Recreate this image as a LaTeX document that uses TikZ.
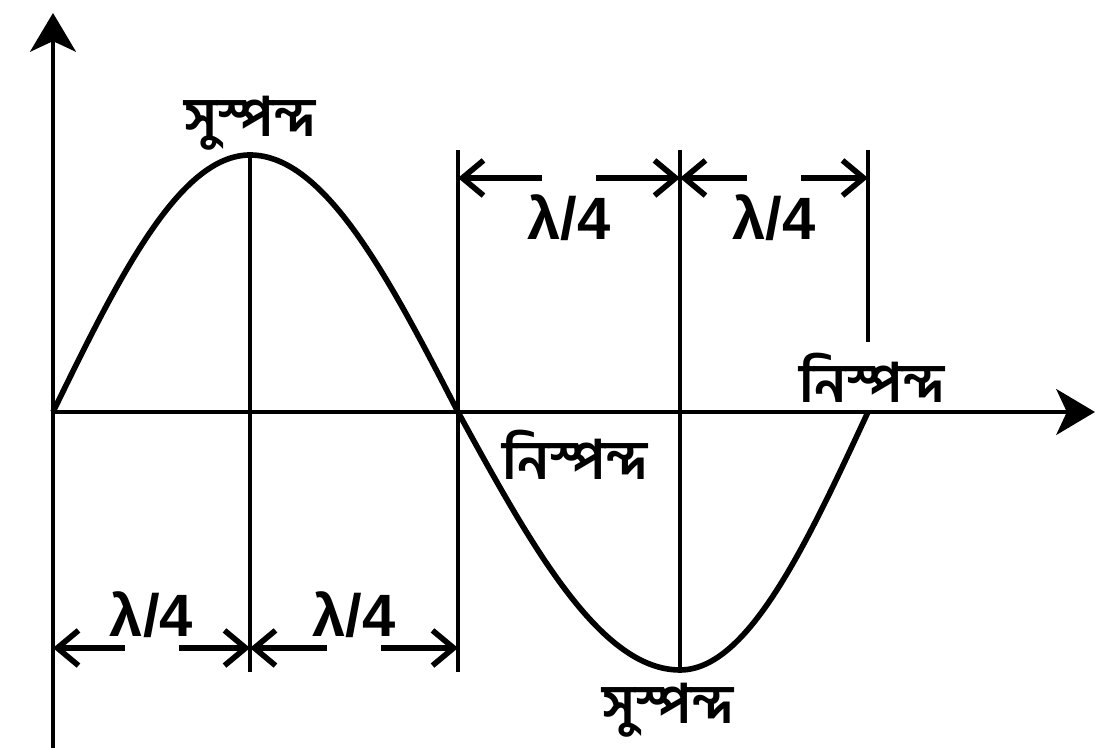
\documentclass[tikz,border=0pt]{standalone}
\usepackage{fontspec}
\setmainfont{Liberation Sans}
\newfontfamily\bnfont[Script=Bengali]{Hind Siliguri}
\usetikzlibrary{arrows.meta}
\tikzset{
	axisline/.style={line width=1.4pt, -{Stealth[length=11pt,width=13pt,inset=3pt]}},
	dimarrow/.style={line width=1.6pt, -{Straight Barb[length=6pt,width=10pt]}},
	wavelbl/.style={font=\bfseries\fontsize{17}{20}\selectfont},
	bnlbl/.style={font=\bnfont\bfseries\fontsize{15.5}{18}\selectfont}
}
\begin{document}
\begin{tikzpicture}
	\useasboundingbox (0,0) rectangle (10.99,7.48);
	\def\Y{3.36}
	\coordinate (O) at (0.53,\Y);
	\coordinate (A1) at (2.50,5.93);
	\coordinate (N1) at (4.58,\Y);
	\coordinate (A2) at (6.80,0.78);
	\coordinate (N2) at (8.68,\Y);
	\coordinate (Ybot) at (0.53,0);
	\coordinate (Ytop) at (0.53,7.35);
	\coordinate (Xend) at (10.95,\Y);
	% axes
	\draw[axisline] (Ybot) -- (Ytop);
	\draw[axisline] (O) -- (Xend);
	% wave
	\draw[line width=1.6pt] (O) sin (A1) cos (N1) sin (A2) cos (N2);
	% vertical markers
	\coordinate (A1b) at (2.50,0.76);
	\coordinate (N1t) at (4.58,5.98);
	\coordinate (N1b) at (4.58,0.76);
	\coordinate (A2t) at (6.80,5.98);
	\coordinate (N2t) at (8.68,5.98);
	\coordinate (N2b) at (8.68,4.06);
	\draw[line width=1.4pt] (A1) -- (A1b);
	\draw[line width=1.4pt] (N1t) -- (N1b);
	\draw[line width=1.4pt] (A2t) -- (A2);
	\draw[line width=1.4pt] (N2t) -- (N2b);
	% quarter wavelength marks
	\foreach \a/\b/\y/\ly [count=\i] in {0.53/2.50/1.00/1.33, 2.50/4.58/1.00/1.33,
		4.58/6.80/5.70/5.30, 6.80/8.68/5.70/5.30} {
		\coordinate (M\i) at ({(\a+\b)/2},\y);
		\draw[dimarrow] ([xshift=-0.27cm]M\i) -- (\a,\y);
		\draw[dimarrow] ([xshift=0.27cm]M\i) -- (\b,\y);
		\node[wavelbl] (Q\i) at ({(\a+\b)/2},\ly) {λ/4};
	}
	% labels
	\node[bnlbl] (S1) at (2.50,6.25) {সুস্পন্দ};
	\node[bnlbl] (S2) at (6.68,0.38) {সুস্পন্দ};
	\node[bnlbl] (K1) at (5.75,2.93) {নিস্পন্দ};
	\node[bnlbl] (K2) at (8.72,3.70) {নিস্পন্দ};
\end{tikzpicture}
\end{document}
